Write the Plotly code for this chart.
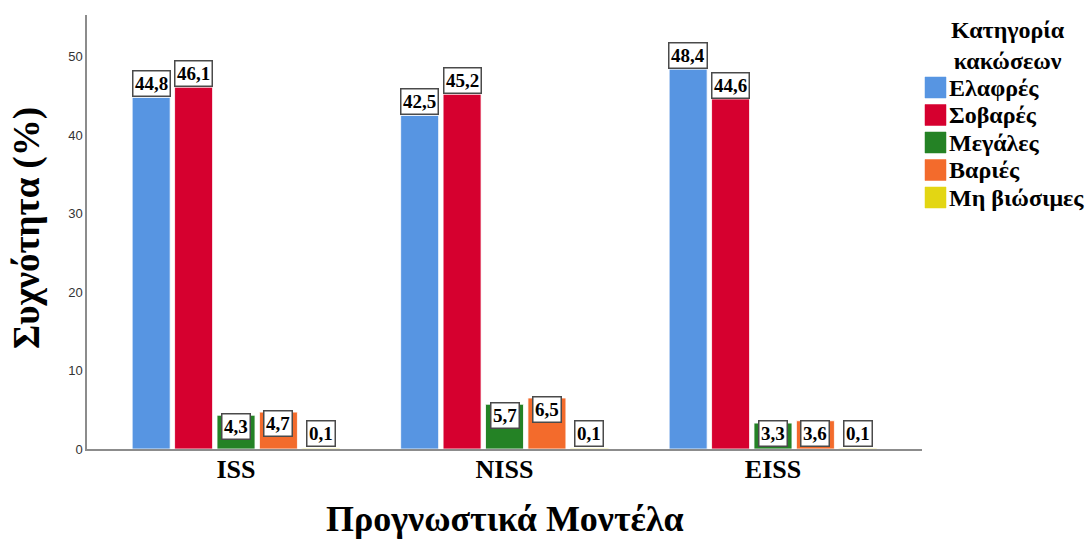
import plotly.graph_objects as go

# Injury severity distribution per prognostic model
models = ["ISS", "NISS", "EISS"]
categories = ["Ελαφρές", "Σοβαρές", "Μεγάλες", "Βαριές", "Μη βιώσιμες"]
elafres = [44.8, 42.5, 48.4]
sovares = [46.1, 45.2, 44.6]
megales = [4.3, 5.7, 3.3]
varies = [4.7, 6.5, 3.6]
mi_viosimes = [0.1, 0.1, 0.1]
series = [elafres, sovares, megales, varies, mi_viosimes]
colors = ["#5795E2", "#D6002F", "#248225", "#F36B2C", "#E3D613"]

SERIF = "Times New Roman, Liberation Serif, serif"
SANS = "Arial, Liberation Sans, sans-serif"

# plot area geometry (pixels) used for layout of the value boxes, titles and legend
W, H = 1089, 541
ML, MR, MT, MB = 87, 167, 15, 92
PW, PH = W - ML - MR, H - MT - MB
YMAX = 55.3
px_per_unit = PH / YMAX

slot = 0.158
bar_w = 0.1415
box_h = 30


def px_x(px):
    return (px - ML) / PW


def px_y(py):
    return (H - MB - py) / PH


fig = go.Figure()
annotations = []
for j, (name, vals, col) in enumerate(zip(categories, series, colors)):
    off = (j - 2) * slot
    xs = [i + off for i in range(len(models))]
    fig.add_trace(go.Bar(
        x=xs, y=vals, width=bar_w, name=name,
        marker=dict(color=col, line=dict(color="white", width=0.8)),
        showlegend=False, hoverinfo="y",
    ))
    for x, v in zip(xs, vals):
        label = f"{v:.1f}".replace(".", ",")
        if v >= 10:
            y, anchor, shift = v, "bottom", 0
        elif v * px_per_unit >= box_h:
            y, anchor, shift = v, "top", 2
        else:
            y, anchor, shift = 0, "bottom", 2
        annotations.append(dict(
            x=x, y=y, xref="x", yref="y", text=f"<b>{label}</b>", showarrow=False,
            yanchor=anchor, yshift=shift,
            font=dict(family=SERIF, size=19, color="black"),
            bgcolor="white", bordercolor="#4a4a4a", borderwidth=1.5, borderpad=1.5,
        ))

# axis titles
annotations.append(dict(
    x=px_x(505), y=px_y(519), xref="paper", yref="paper",
    text="<b>Προγνωστικά Μοντέλα</b>", showarrow=False,
    xanchor="center", yanchor="middle",
    font=dict(family=SERIF, size=36, color="black"),
))
annotations.append(dict(
    x=px_x(27), y=px_y(228), xref="paper", yref="paper",
    text="<b>Συχνότητα (%)</b>", showarrow=False, textangle=-90,
    xanchor="center", yanchor="middle",
    font=dict(family=SERIF, size=37, color="black"),
))

# legend drawn at the right of the plot area
shapes = []
annotations.append(dict(
    x=px_x(1008), y=px_y(45), xref="paper", yref="paper",
    text="<b>Κατηγορία</b><br><b>κακώσεων</b>", showarrow=False, align="center",
    xanchor="center", yanchor="middle",
    font=dict(family=SERIF, size=24, color="black"),
))
for k, (name, col) in enumerate(zip(categories, colors)):
    top = 77 + k * 27.5
    shapes.append(dict(
        type="rect", xref="paper", yref="paper",
        x0=px_x(925), x1=px_x(946), y0=px_y(top + 21), y1=px_y(top),
        fillcolor=col, line=dict(color=col, width=0.5),
    ))
    annotations.append(dict(
        x=px_x(947), y=px_y(top + 10.5), xref="paper", yref="paper",
        text=f"<b>{name}</b>", showarrow=False, xanchor="left", yanchor="middle",
        font=dict(family=SERIF, size=24, color="black"),
    ))

fig.update_layout(
    width=W, height=H,
    margin=dict(l=ML, r=MR, t=MT, b=MB),
    paper_bgcolor="white", plot_bgcolor="white",
    barmode="overlay",
    showlegend=False,
    annotations=annotations,
    shapes=shapes,
    xaxis=dict(
        range=[-0.555, 2.555], automargin=False,
        tickvals=list(range(len(models))), ticktext=[f"<b>{m}</b>" for m in models],
        tickfont=dict(family=SERIF, size=26, color="black"),
        ticklabelstandoff=-4,
        showgrid=False, zeroline=False, showline=True,
        linecolor="#8c8c8c", linewidth=1.5, ticks="",
    ),
    yaxis=dict(
        range=[0, YMAX], tickvals=[0, 10, 20, 30, 40, 50], automargin=False,
        tickfont=dict(family=SANS, size=13, color="#333333"),
        showgrid=False, zeroline=False, showline=True,
        linecolor="#8c8c8c", linewidth=1.5, ticks="", ticklen=0,
    ),
)

fig.write_html("out.html")
